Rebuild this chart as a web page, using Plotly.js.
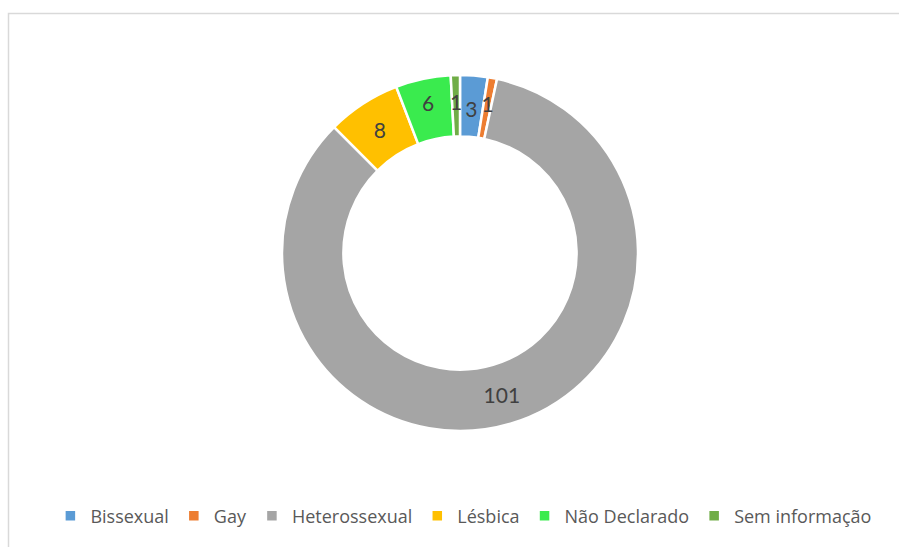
<!DOCTYPE html>
<html>
<head>
<meta charset="utf-8">
<script src="https://cdn.plot.ly/plotly-3.0.1.min.js"></script>
<style>html,body{margin:0;padding:0;background:#fff;}#chart{width:899px;height:547px;}</style>
</head>
<body>
<div id="chart"></div>
<script>
const categories = ["Bissexual", "Gay", "Heterossexual", "Lésbica", "Não Declarado", "Sem informação"];
const values = [3, 1, 101, 8, 6, 1];
const colors = ["#5B9BD5", "#ED7D31", "#A5A5A5", "#FFC000", "#3AEB4E", "#70AD47"];
// which slices carry their label on the main ring vs. the helper ring (thin slices)
const mainLabels = ["", "", "%{value}", "%{value}", "%{value}", ""];
const thinLabels = ["%{value}", "%{value}", "", "", "", "%{value}"];

const labelFont = {family: "Lato, 'Open Sans', sans-serif", size: 21, color: "#404040"};
const cx = 460, cy = 253, R = 178, Rthin = 156;

const main = {
  type: "pie",
  labels: categories,
  values: values,
  hole: 0.655,
  sort: false,
  direction: "clockwise",
  rotation: 0,
  marker: {colors: colors, line: {color: "#ffffff", width: 2.5}},
  texttemplate: mainLabels,
  textposition: "inside",
  insidetextorientation: "horizontal",
  textfont: labelFont,
  hoverinfo: "label+value",
  domain: {x: [(cx - R)/899, (cx + R)/899], y: [1 - (cy + R)/547, 1 - (cy - R)/547]}
};

const thin = {
  type: "pie",
  labels: categories,
  values: values,
  sort: false,
  direction: "clockwise",
  rotation: 0,
  showlegend: false,
  marker: {colors: categories.map(() => "rgba(0,0,0,0)"), line: {width: 0}},
  texttemplate: thinLabels,
  textposition: "inside",
  insidetextorientation: "horizontal",
  textfont: labelFont,
  hoverinfo: "skip",
  domain: {x: [(cx - Rthin)/899, (cx + Rthin)/899], y: [1 - (cy + Rthin)/547, 1 - (cy - Rthin)/547]}
};

const layout = {
  width: 899, height: 547,
  margin: {l: 0, r: 0, t: 0, b: 0},
  paper_bgcolor: "#ffffff",
  showlegend: true,
  uniformtext: {mode: "show", minsize: 21},
  legend: {
    orientation: "h",
    x: 0.516, xanchor: "center",
    y: 1 - 516/547, yanchor: "middle",
    font: {family: "'Open Sans', Lato, sans-serif", size: 18, color: "#595959"},
    itemwidth: 30,
    traceorder: "normal"
  },
  shapes: [{
    type: "rect", xref: "paper", yref: "paper",
    x0: 8.5/899, x1: 1.05, y0: -0.05, y1: 1 - 13.5/547,
    line: {color: "#D9D9D9", width: 1.5}, fillcolor: "rgba(0,0,0,0)"
  }]
};

Plotly.newPlot("chart", [main, thin], layout, {displayModeBar: false, staticPlot: true});
</script>
</body>
</html>
